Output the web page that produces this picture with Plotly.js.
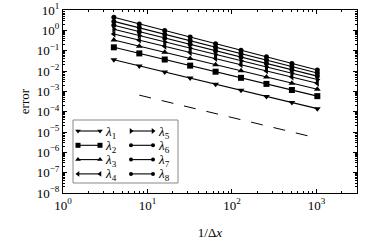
<!DOCTYPE html>
<html>
<head>
<meta charset="utf-8">
<script src="https://cdn.plot.ly/plotly-3.0.1.min.js"></script>
<style>html,body{margin:0;padding:0;background:#fff;}#chart{width:373px;height:243px;}</style>
</head>
<body>
<div id="chart"></div>
<script>
const xs = [4, 8, 16, 32, 64, 128, 256, 512, 1024];
const lam1 = [0.0355, 0.0178, 0.0089, 0.00447, 0.00224, 0.00112, 5.6e-4, 2.8e-4, 1.41e-4];
const lam2 = [0.146, 0.0733, 0.0367, 0.0184, 0.00923, 0.00462, 0.00232, 0.00116, 5.8e-4];
const lam3 = [0.334, 0.166, 0.0828, 0.0412, 0.0205, 0.0102, 0.00508, 0.00253, 0.00126];
const lam4 = [0.66, 0.329, 0.164, 0.0818, 0.0407, 0.0203, 0.0101, 0.00504, 0.00251];
const lam5 = [1.12, 0.551, 0.270, 0.133, 0.0652, 0.032, 0.0157, 0.0077, 0.0038];
const lam6 = [1.77, 0.861, 0.42, 0.205, 0.0998, 0.0486, 0.0237, 0.0116, 0.0056];
const lam7 = [2.75, 1.33, 0.638, 0.307, 0.148, 0.0712, 0.0343, 0.0165, 0.0079];
const lam8 = [4.37, 2.07, 0.98, 0.466, 0.221, 0.105, 0.0497, 0.0236, 0.0112];
const refX = [8, 1024];
const refY = [6.5e-4, 5.0e-6];
const names = ['<i>λ</i><sub>1</sub>','<i>λ</i><sub>2</sub>','<i>λ</i><sub>3</sub>','<i>λ</i><sub>4</sub>','<i>λ</i><sub>5</sub>','<i>λ</i><sub>6</sub>','<i>λ</i><sub>7</sub>','<i>λ</i><sub>8</sub>'];
const xTickVals = [1, 10, 100, 1000];
const xTickText = ['10<sup>0</sup>','10<sup>1</sup>','10<sup>2</sup>','10<sup>3</sup>'];
const yTickVals = [1e1, 1e0, 1e-1, 1e-2, 1e-3, 1e-4, 1e-5, 1e-6, 1e-7, 1e-8];
const yTickText = ['10<sup>1</sup>','10<sup>0</sup>','10<sup>−1</sup>','10<sup>−2</sup>','10<sup>−3</sup>','10<sup>−4</sup>','10<sup>−5</sup>','10<sup>−6</sup>','10<sup>−7</sup>','10<sup>−8</sup>'];

const series = [lam1, lam2, lam3, lam4, lam5, lam6, lam7, lam8];
const symbols = ['triangle-down','square','triangle-up','triangle-left','triangle-right','circle','circle','circle'];
const sizes = [6, 6, 6, 6, 6, 5, 5, 5];

// layout constants (page pixels)
const W = 373, H = 243, ML = 63, MR = 16, MT = 10, MB = 50;
const FAM = 'Liberation Serif';
const font = {family: FAM, size: 13, color: '#000'};

const traces = series.map((ys, i) => ({
  x: xs, y: ys, name: names[i], type: 'scatter', mode: 'lines+markers',
  line: {color: '#000', width: 1.1},
  marker: {symbol: symbols[i], size: sizes[i], color: '#000'},
  showlegend: false
}));
traces.push({x: refX, y: refY, type: 'scatter', mode: 'lines', showlegend: false,
  line: {color: '#000', width: 1, dash: '12px,11px'}});

// manual legend in a pixel-coordinate overlay
const legBox = {x0: 73, x1: 178, y0: 120, y1: 183};
const rowY0 = 131, rowStep = 14.3;
const colX = [78, 131];
const sampleLen = 22;
const annotations = [];
series.forEach((ys, i) => {
  const col = Math.floor(i / 4), row = i % 4;
  const yy = rowY0 + row * rowStep;
  const x0 = colX[col], x1 = colX[col] + sampleLen;
  traces.push({x: [x0, x1], y: [yy, yy], xaxis: 'x2', yaxis: 'y2', type: 'scatter',
    mode: 'lines+markers', showlegend: false, hoverinfo: 'skip',
    line: {color: '#000', width: 1.1},
    marker: {symbol: symbols[i], size: sizes[i] - 1, color: '#000'}});
  annotations.push({x: x1 + 3, y: yy + 1, xref: 'x2', yref: 'y2', text: names[i],
    showarrow: false, xanchor: 'left', yanchor: 'middle',
    font: {family: FAM, size: 13, color: '#000'}});
});

const axisCommon = {
  type: 'log', showgrid: false, zeroline: false, showline: true, linecolor: '#000', linewidth: 1,
  mirror: 'allticks', ticks: 'inside', ticklen: 4, tickcolor: '#000',
  tickmode: 'array', tickfont: font,
  minor: {ticks: 'inside', ticklen: 2, tickcolor: '#000', dtick: 'D1', showgrid: false}
};
const layout = {
  width: W, height: H,
  margin: {l: ML, r: MR, t: MT, b: MB},
  paper_bgcolor: '#fff', plot_bgcolor: '#fff',
  font: font,
  showlegend: false,
  xaxis: Object.assign({}, axisCommon, {range: [0, 3.48], tickvals: xTickVals, ticktext: xTickText,
    title: {text: '1/Δ<i>x</i>', font: font, standoff: 16}}),
  yaxis: Object.assign({}, axisCommon, {range: [-8, 1], tickvals: yTickVals, ticktext: yTickText,
    title: {text: 'error', font: font, standoff: 4}}),
  xaxis2: {overlaying: 'x', range: [ML, W - MR], visible: false, fixedrange: true},
  yaxis2: {overlaying: 'y', range: [H - MB, MT], visible: false, fixedrange: true},
  shapes: [{type: 'rect', xref: 'x2', yref: 'y2', x0: legBox.x0, x1: legBox.x1, y0: legBox.y0, y1: legBox.y1,
    line: {color: '#888', width: 1}, fillcolor: '#fff', layer: 'below'}],
  annotations: annotations
};
Plotly.newPlot('chart', traces, layout, {staticPlot: true, displayModeBar: false});
</script>
</body>
</html>
